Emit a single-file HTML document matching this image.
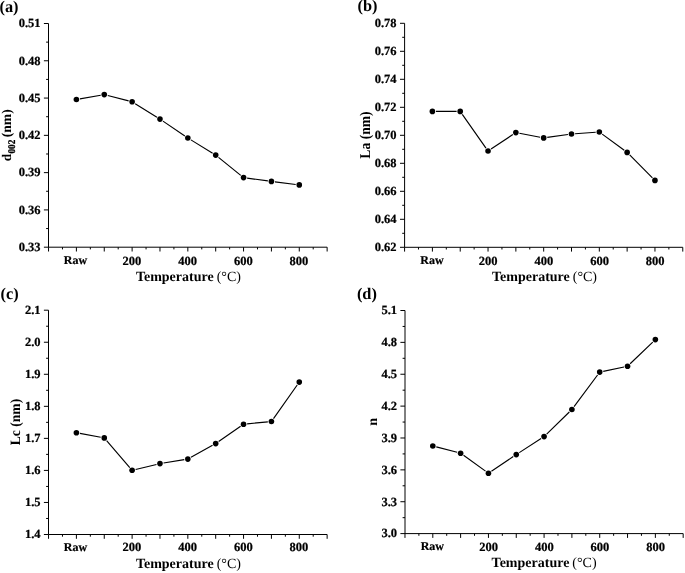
<!DOCTYPE html>
<html><head><meta charset="utf-8"><title>Figure</title>
<style>
html,body{margin:0;padding:0;background:#fff;}
body{width:685px;height:573px;overflow:hidden;}
svg{display:block;text-rendering:geometricPrecision;will-change:transform;filter:grayscale(1);font-family:"Liberation Serif",serif;font-weight:bold;fill:#000;}
.t{font-size:12.5px;stroke:#000;stroke-width:0.22px;}
.ti{font-size:14.0px;}
.p{font-size:16.35px;}
.r{font-weight:normal;}
.sub{font-size:9.3px;}
</style></head><body>
<svg width="685" height="573" viewBox="0 0 685 573">
<rect width="685" height="573" fill="#fff"/>
<path d="M48.5 23.5V247.2H327.14M48.5 23.5h-4.6M48.5 60.78h-4.6M48.5 98.07h-4.6M48.5 135.35h-4.6M48.5 172.63h-4.6M48.5 209.92h-4.6M48.5 247.2h-4.6M48.5 42.14h-2.4M48.5 79.42h-2.4M48.5 116.71h-2.4M48.5 153.99h-2.4M48.5 191.27h-2.4M48.5 228.56h-2.4M48.54 247.2v4.3M76.4 247.2v4.3M104.26 247.2v4.3M132.12 247.2v4.3M159.98 247.2v4.3M187.84 247.2v4.3M215.7 247.2v4.3M243.56 247.2v4.3M271.42 247.2v4.3M299.28 247.2v4.3M327.14 247.2v4.3M62.47 247.2v2.2M90.33 247.2v2.2M118.19 247.2v2.2M146.05 247.2v2.2M173.91 247.2v2.2M201.77 247.2v2.2M229.63 247.2v2.2M257.49 247.2v2.2M285.35 247.2v2.2M313.21 247.2v2.2" fill="none" stroke="#000" stroke-width="1.0"/>
<path d="M79.95 98.88L100.71 95.22M107.75 95.5L128.63 100.9M135.18 103.7L156.92 117.2M162.96 121.12L184.86 135.98M190.91 139.88L212.63 153.22M218.5 157.36L240.76 175.34M247.13 178.09L267.85 180.91M274.99 181.85L295.71 184.45" fill="none" stroke="#000" stroke-width="1.15"/>
<circle cx="76.4" cy="99.5" r="2.8" fill="#000"/>
<circle cx="104.26" cy="94.6" r="2.8" fill="#000"/>
<circle cx="132.12" cy="101.8" r="2.8" fill="#000"/>
<circle cx="159.98" cy="119.1" r="2.8" fill="#000"/>
<circle cx="187.84" cy="138" r="2.8" fill="#000"/>
<circle cx="215.7" cy="155.1" r="2.8" fill="#000"/>
<circle cx="243.56" cy="177.6" r="2.8" fill="#000"/>
<circle cx="271.42" cy="181.4" r="2.8" fill="#000"/>
<circle cx="299.28" cy="184.9" r="2.8" fill="#000"/>
<text class="t" text-anchor="end" x="40.5" y="27.3">0.51</text>
<text class="t" text-anchor="end" x="40.5" y="64.58">0.48</text>
<text class="t" text-anchor="end" x="40.5" y="101.87">0.45</text>
<text class="t" text-anchor="end" x="40.5" y="139.15">0.42</text>
<text class="t" text-anchor="end" x="40.5" y="176.43">0.39</text>
<text class="t" text-anchor="end" x="40.5" y="213.72">0.36</text>
<text class="t" text-anchor="end" x="40.5" y="251">0.33</text>
<text class="t" style="font-size:12px" text-anchor="middle" x="75.4" y="264">Raw</text>
<text class="t" text-anchor="middle" x="131.82" y="265.4">200</text>
<text class="t" text-anchor="middle" x="187.54" y="265.4">400</text>
<text class="t" text-anchor="middle" x="243.26" y="265.4">600</text>
<text class="t" text-anchor="middle" x="298.98" y="265.4">800</text>
<text class="ti" x="135.9" y="280.6">Temperature <tspan class="r" dx="-0.5">(°C)</tspan></text>
<text class="p" x="-0.5" y="11.5">(a)</text>
<g transform="translate(10.9 135.35) rotate(-90)"><text style="font-size:13.2px" x="-26">d</text><text style="font-size:9.3px;stroke:#000;stroke-width:0.25px" transform="translate(-18.2 3.9) scale(1 1.1)">002</text><text style="font-size:13.7px" x="-2">(nm)</text></g>
<path d="M404.6 23.3V247.3H682.78M404.6 23.3h-4.6M404.6 51.3h-4.6M404.6 79.3h-4.6M404.6 107.3h-4.6M404.6 135.3h-4.6M404.6 163.3h-4.6M404.6 191.3h-4.6M404.6 219.3h-4.6M404.6 247.3h-4.6M404.6 37.3h-2.4M404.6 65.3h-2.4M404.6 93.3h-2.4M404.6 121.3h-2.4M404.6 149.3h-2.4M404.6 177.3h-2.4M404.6 205.3h-2.4M404.6 233.3h-2.4M404.58 247.3v4.3M432.4 247.3v4.3M460.22 247.3v4.3M488.04 247.3v4.3M515.86 247.3v4.3M543.68 247.3v4.3M571.5 247.3v4.3M599.32 247.3v4.3M627.14 247.3v4.3M654.96 247.3v4.3M682.78 247.3v4.3M418.49 247.3v2.2M446.31 247.3v2.2M474.13 247.3v2.2M501.95 247.3v2.2M529.77 247.3v2.2M557.59 247.3v2.2M585.41 247.3v2.2M613.23 247.3v2.2M641.05 247.3v2.2M668.87 247.3v2.2" fill="none" stroke="#000" stroke-width="1.0"/>
<path d="M436 111.4L456.62 111.4M462.29 114.35L485.97 148.05M491.04 149.01L512.86 134.59M519.4 133.27L540.14 137.23M547.25 137.4L567.93 134.5M575.09 133.74L595.73 132.26M602.22 134.13L624.24 150.27M629.68 154.95L652.42 177.85" fill="none" stroke="#000" stroke-width="1.15"/>
<circle cx="432.4" cy="111.4" r="2.8" fill="#000"/>
<circle cx="460.22" cy="111.4" r="2.8" fill="#000"/>
<circle cx="488.04" cy="151" r="2.8" fill="#000"/>
<circle cx="515.86" cy="132.6" r="2.8" fill="#000"/>
<circle cx="543.68" cy="137.9" r="2.8" fill="#000"/>
<circle cx="571.5" cy="134" r="2.8" fill="#000"/>
<circle cx="599.32" cy="132" r="2.8" fill="#000"/>
<circle cx="627.14" cy="152.4" r="2.8" fill="#000"/>
<circle cx="654.96" cy="180.4" r="2.8" fill="#000"/>
<text class="t" text-anchor="end" x="396.6" y="27.1">0.78</text>
<text class="t" text-anchor="end" x="396.6" y="55.1">0.76</text>
<text class="t" text-anchor="end" x="396.6" y="83.1">0.74</text>
<text class="t" text-anchor="end" x="396.6" y="111.1">0.72</text>
<text class="t" text-anchor="end" x="396.6" y="139.1">0.70</text>
<text class="t" text-anchor="end" x="396.6" y="167.1">0.68</text>
<text class="t" text-anchor="end" x="396.6" y="195.1">0.66</text>
<text class="t" text-anchor="end" x="396.6" y="223.1">0.64</text>
<text class="t" text-anchor="end" x="396.6" y="251.1">0.62</text>
<text class="t" style="font-size:12px" text-anchor="middle" x="431.9" y="264.1">Raw</text>
<text class="t" text-anchor="middle" x="488.24" y="265.4">200</text>
<text class="t" text-anchor="middle" x="543.88" y="265.4">400</text>
<text class="t" text-anchor="middle" x="599.52" y="265.4">600</text>
<text class="t" text-anchor="middle" x="655.16" y="265.4">800</text>
<text class="ti" x="492" y="281.1">Temperature <tspan class="r" dx="-0.5">(°C)</tspan></text>
<text class="p" x="357.5" y="11.4">(b)</text>
<text class="ti" text-anchor="middle" transform="translate(369.5 135) rotate(-90) scale(0.973 1.07)">La (nm)</text>
<path d="M48.5 310.2V534.5H327.14M48.5 310.2h-4.6M48.5 342.24h-4.6M48.5 374.29h-4.6M48.5 406.33h-4.6M48.5 438.37h-4.6M48.5 470.41h-4.6M48.5 502.46h-4.6M48.5 534.5h-4.6M48.5 326.22h-2.4M48.5 358.26h-2.4M48.5 390.31h-2.4M48.5 422.35h-2.4M48.5 454.39h-2.4M48.5 486.44h-2.4M48.5 518.48h-2.4M48.54 534.5v4.3M76.4 534.5v4.3M104.26 534.5v4.3M132.12 534.5v4.3M159.98 534.5v4.3M187.84 534.5v4.3M215.7 534.5v4.3M243.56 534.5v4.3M271.42 534.5v4.3M299.28 534.5v4.3M327.14 534.5v4.3M62.47 534.5v2.2M90.33 534.5v2.2M118.19 534.5v2.2M146.05 534.5v2.2M173.91 534.5v2.2M201.77 534.5v2.2M229.63 534.5v2.2M257.49 534.5v2.2M285.35 534.5v2.2M313.21 534.5v2.2" fill="none" stroke="#000" stroke-width="1.0"/>
<path d="M79.94 433.36L100.72 437.24M106.61 440.63L129.77 467.57M135.62 469.46L156.48 464.44M163.53 463.03L184.29 459.67M190.99 457.35L212.55 445.35M218.65 441.54L240.61 426.26M247.14 423.85L267.84 421.85M273.5 418.56L297.2 385.04" fill="none" stroke="#000" stroke-width="1.15"/>
<circle cx="76.4" cy="432.7" r="2.8" fill="#000"/>
<circle cx="104.26" cy="437.9" r="2.8" fill="#000"/>
<circle cx="132.12" cy="470.3" r="2.8" fill="#000"/>
<circle cx="159.98" cy="463.6" r="2.8" fill="#000"/>
<circle cx="187.84" cy="459.1" r="2.8" fill="#000"/>
<circle cx="215.7" cy="443.6" r="2.8" fill="#000"/>
<circle cx="243.56" cy="424.2" r="2.8" fill="#000"/>
<circle cx="271.42" cy="421.5" r="2.8" fill="#000"/>
<circle cx="299.28" cy="382.1" r="2.8" fill="#000"/>
<text class="t" text-anchor="end" x="40.5" y="314">2.1</text>
<text class="t" text-anchor="end" x="40.5" y="346.04">2.0</text>
<text class="t" text-anchor="end" x="40.5" y="378.09">1.9</text>
<text class="t" text-anchor="end" x="40.5" y="410.13">1.8</text>
<text class="t" text-anchor="end" x="40.5" y="442.17">1.7</text>
<text class="t" text-anchor="end" x="40.5" y="474.21">1.6</text>
<text class="t" text-anchor="end" x="40.5" y="506.26">1.5</text>
<text class="t" text-anchor="end" x="40.5" y="538.3">1.4</text>
<text class="t" style="font-size:12px" text-anchor="middle" x="75.4" y="550.6">Raw</text>
<text class="t" text-anchor="middle" x="131.82" y="551.4">200</text>
<text class="t" text-anchor="middle" x="187.54" y="551.4">400</text>
<text class="t" text-anchor="middle" x="243.26" y="551.4">600</text>
<text class="t" text-anchor="middle" x="298.98" y="551.4">800</text>
<text class="ti" x="135.9" y="567.9">Temperature <tspan class="r" dx="-0.5">(°C)</tspan></text>
<text class="p" x="0.5" y="298.8">(c)</text>
<text class="ti" text-anchor="middle" transform="translate(19.5 422.05) rotate(-90) scale(0.973 1.02)">Lc (nm)</text>
<path d="M405 310.5V533.6H683.18M405 310.5h-4.6M405 342.37h-4.6M405 374.24h-4.6M405 406.11h-4.6M405 437.99h-4.6M405 469.86h-4.6M405 501.73h-4.6M405 533.6h-4.6M405 326.44h-2.4M405 358.31h-2.4M405 390.18h-2.4M405 422.05h-2.4M405 453.92h-2.4M405 485.79h-2.4M405 517.66h-2.4M404.98 533.6v4.3M432.8 533.6v4.3M460.62 533.6v4.3M488.44 533.6v4.3M516.26 533.6v4.3M544.08 533.6v4.3M571.9 533.6v4.3M599.72 533.6v4.3M627.54 533.6v4.3M655.36 533.6v4.3M683.18 533.6v4.3M418.89 533.6v2.2M446.71 533.6v2.2M474.53 533.6v2.2M502.35 533.6v2.2M530.17 533.6v2.2M557.99 533.6v2.2M585.81 533.6v2.2M613.63 533.6v2.2M641.45 533.6v2.2M669.27 533.6v2.2" fill="none" stroke="#000" stroke-width="1.0"/>
<path d="M436.29 446.9L457.13 452.3M463.54 455.3L485.52 471.1M491.43 471.2L513.27 456.6M519.28 452.64L541.06 438.56M546.66 434.09L569.32 412.01M574.05 406.61L597.57 374.99M603.24 371.35L624.02 366.95M630.14 363.71L652.76 342.09" fill="none" stroke="#000" stroke-width="1.15"/>
<circle cx="432.8" cy="446" r="2.8" fill="#000"/>
<circle cx="460.62" cy="453.2" r="2.8" fill="#000"/>
<circle cx="488.44" cy="473.2" r="2.8" fill="#000"/>
<circle cx="516.26" cy="454.6" r="2.8" fill="#000"/>
<circle cx="544.08" cy="436.6" r="2.8" fill="#000"/>
<circle cx="571.9" cy="409.5" r="2.8" fill="#000"/>
<circle cx="599.72" cy="372.1" r="2.8" fill="#000"/>
<circle cx="627.54" cy="366.2" r="2.8" fill="#000"/>
<circle cx="655.36" cy="339.6" r="2.8" fill="#000"/>
<text class="t" text-anchor="end" x="397" y="314.3">5.1</text>
<text class="t" text-anchor="end" x="397" y="346.17">4.8</text>
<text class="t" text-anchor="end" x="397" y="378.04">4.5</text>
<text class="t" text-anchor="end" x="397" y="409.91">4.2</text>
<text class="t" text-anchor="end" x="397" y="441.79">3.9</text>
<text class="t" text-anchor="end" x="397" y="473.66">3.6</text>
<text class="t" text-anchor="end" x="397" y="505.53">3.3</text>
<text class="t" text-anchor="end" x="397" y="537.4">3.0</text>
<text class="t" style="font-size:12px" text-anchor="middle" x="432.3" y="549.9">Raw</text>
<text class="t" text-anchor="middle" x="488.64" y="550.7">200</text>
<text class="t" text-anchor="middle" x="544.28" y="550.7">400</text>
<text class="t" text-anchor="middle" x="599.92" y="550.7">600</text>
<text class="t" text-anchor="middle" x="655.56" y="550.7">800</text>
<text class="ti" x="491.6" y="567.4">Temperature <tspan class="r" dx="-0.5">(°C)</tspan></text>
<text class="p" x="356.9" y="299">(d)</text>
<text class="ti" text-anchor="middle" transform="translate(376.5 421.75) rotate(-90)">n</text>
</svg>
</body></html>
